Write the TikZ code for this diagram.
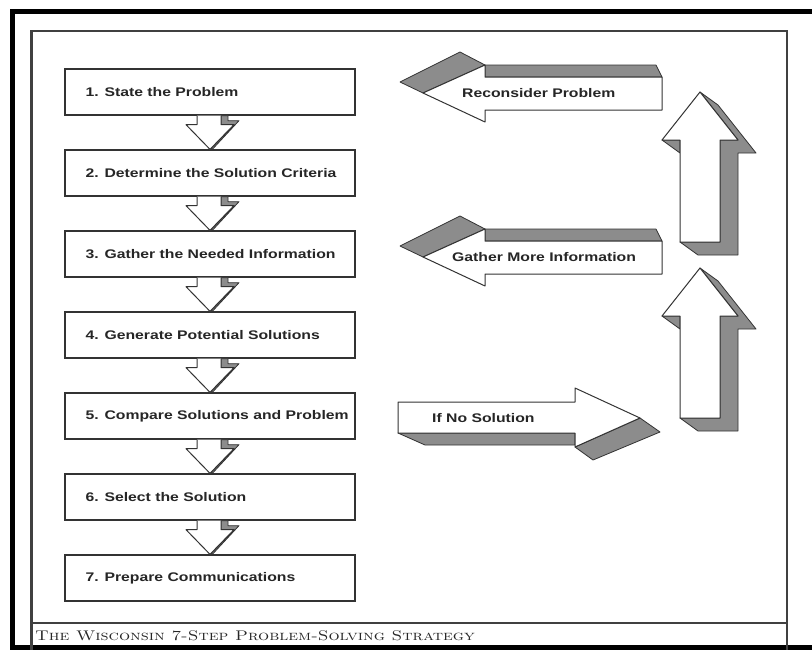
\documentclass[tikz,border=0pt]{standalone}
\usepackage{fontspec}
\setsansfont{Liberation Sans}[FakeStretch=1.26]
\usetikzlibrary{positioning, calc}

\tikzset{
  stepbox/.style={draw=black!80, line width=1.3pt, fill=white,
    minimum width=290pt, minimum height=46pt},
  steptext/.style={font=\fontsize{12.5}{14}\sffamily\bfseries, text=black!85, inner sep=0pt},
  frontface/.style={draw=black!80, line width=1pt, fill=white, line join=round},
  darkface/.style={draw=black!80, line width=0.8pt, fill=black!45, line join=round}
}

\begin{document}
\begin{tikzpicture}[x=1pt, y=-1pt]
  \useasboundingbox (0,0) rectangle (812,649);
  \clip (0,0) rectangle (812,649);
  \fill[white] (0,0) rectangle (812,649);

  % Frames
  \draw[line width=5pt] (12.5,11) rectangle (816,647.5);
  \draw[black!75, line width=2.5pt] (31.5,31) rectangle (787,660);
  \draw[black!75, line width=2pt] (31.5,623) -- (787,623);
  \node[anchor=base west, inner sep=0pt, text=black!85, font=\fontsize{14}{16}\rmfamily\scshape]
    (caption) at (35,640) {\scalebox{1.25}[1]{The Wisconsin 7-Step Problem-Solving Strategy}};

  % Steps
  \foreach \i/\txt in {1/1. State the Problem, 2/2. Determine the Solution Criteria,
      3/3. Gather the Needed Information, 4/4. Generate Potential Solutions,
      5/5. Compare Solutions and Problem, 6/6. Select the Solution,
      7/7. Prepare Communications}
  {
    \node[stepbox] (s\i) at (210,{11+81*\i}) {};
    \node[steptext, right=21pt of s\i.west] (t\i) {\txt};
  }

  % Down arrows
  \foreach \i [evaluate=\i as \j using int(\i+1)] in {1,...,6}
  {
    \begin{scope}[shift={(s\i.south)}]
      \draw[darkface] (11,0) -- (18,0) -- (18,5) -- (29,5) -- (3,33)
        -- (s\j.north) -- (24,9) -- (11,9) -- cycle;
      \draw[frontface] (-13,0) -- (-13,9) -- (-24,9) -- (s\j.north)
        -- (24,9) -- (11,9) -- (11,0);
    \end{scope}
  }

  % Back arrows
  \foreach \dy in {0,164}
  {
    \begin{scope}[shift={(0,\dy)}]
      \draw[darkface] (400,82) -- (460,52) -- (485,65) -- (423,93) -- cycle;
      \draw[darkface] (485,65) -- (656,65) -- (662,77) -- (485,77) -- cycle;
      \draw[frontface] (423,93) -- (485,65) -- (485,77) -- (662,77) -- (662,110)
        -- (485,110) -- (485,122) -- cycle;
    \end{scope}
  }
  \node[steptext, anchor=west] (recon) at (462,93) {Reconsider Problem};
  \node[steptext, anchor=west] (gather) at (452,257) {Gather More Information};

  % Forward arrow
  \draw[darkface] (398,433) -- (575,433) -- (575,445) -- (425,445) -- cycle;
  \draw[darkface] (575,447) -- (640,418) -- (660,432) -- (593,460) -- cycle;
  \draw[frontface] (398,402) -- (575,402) -- (575,388) -- (640,418) -- (575,447)
    -- (575,433) -- (398,433) -- cycle;
  \node[steptext, anchor=west] (nosol) at (432,418) {If No Solution};

  % Up arrows
  \foreach \dy in {0,176}
  {
    \begin{scope}[shift={(0,\dy)}]
      \draw[darkface] (662,140) -- (680,153) -- (680,140) -- cycle;
      \draw[darkface] (700,92) -- (718,105) -- (756,153) -- (738,153) -- (738,255)
        -- (698,255) -- (680,242) -- (720,242) -- (720,140) -- (738,140) -- cycle;
      \draw[frontface] (700,92) -- (738,140) -- (720,140) -- (720,242) -- (680,242)
        -- (680,140) -- (662,140) -- cycle;
    \end{scope}
  }
\end{tikzpicture}
\end{document}
